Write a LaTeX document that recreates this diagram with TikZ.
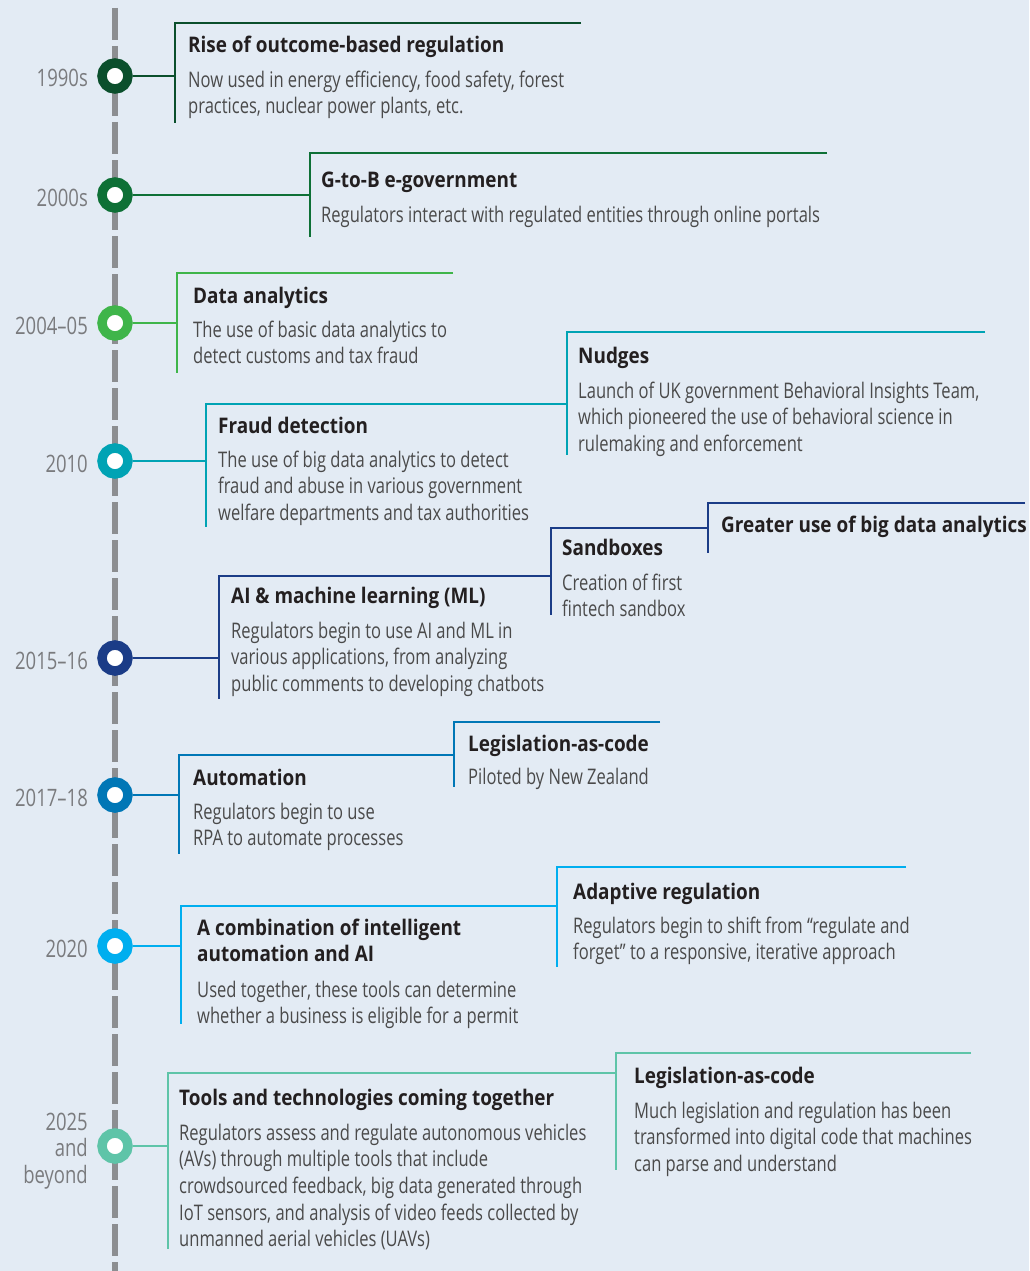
\documentclass[tikz,border=0pt]{standalone}
\usepackage{fontspec}
\setmainfont[FakeStretch=0.77, BoldFeatures={FakeStretch=0.88}]{Open Sans}
\usepackage{tikz}

\definecolor{bgc}{HTML}{E3EBF4}
\definecolor{axisc}{HTML}{8C8E91}
\definecolor{txtc}{HTML}{231F20}
\definecolor{descc}{HTML}{4A4A4A}
\definecolor{yearc}{HTML}{7A7B7E}
\definecolor{cA}{HTML}{0B4F2C}
\definecolor{cB}{HTML}{0E7036}
\definecolor{cC}{HTML}{3FB54A}
\definecolor{cD}{HTML}{00A3B4}
\definecolor{cE}{HTML}{1B3C87}
\definecolor{cF}{HTML}{0077B6}
\definecolor{cG}{HTML}{00AEEF}
\definecolor{cH}{HTML}{5EC4A8}

\tikzset{
  dot/.style={circle, draw=#1, line width=9.5pt, fill=white, minimum size=26pt, inner sep=0pt},
  yr/.style={anchor=base east, inner sep=0pt, text=yearc, font=\fontsize{24}{26.6}\selectfont, align=right},
  ttl/.style={anchor=base west, inner sep=0pt, text=txtc, font=\fontsize{21.5}{26.7}\selectfont\bfseries, align=left},
  desc/.style={anchor=base west, inner sep=0pt, text=descc, font=\fontsize{21.5}{26.7}\selectfont, align=left},
  brk/.style={draw=#1, line width=2.8pt},
}

\begin{document}
\begin{tikzpicture}[x=1pt, y=-1pt]
\useasboundingbox (0,0) rectangle (1029,1271);
\fill[bgc] (0,0) rectangle (1029,1271);

% time axis
\draw[axisc, line width=6pt, dash pattern=on 32pt off 6pt] (115,8) -- (115,1271);

% 1990s
\node[dot=cA] (c1) at (115,76) {};
\node[yr] (y1) at (88,87) {1990s};
\coordinate (k1) at (175,76);
\draw[brk=cA] (c1) -- (k1);
\draw[brk=cA] (581,23) -| (175,123);
\node[ttl] (t1) at (188,53) {Rise of outcome-based regulation};
\node[desc] (d1) at (188,113.7) {Now used in energy efficiency, food safety, forest\\practices, nuclear power plants, etc.};

% 2000s
\node[dot=cB] (c2) at (115,195) {};
\node[yr] (y2) at (88,206) {2000s};
\coordinate (k2) at (310,195);
\draw[brk=cB] (c2) -- (k2);
\draw[brk=cB] (827,153) -| (310,237);
\node[ttl] (t2) at (321,187) {G-to-B e-government};
\node[desc] (d2) at (321,222) {Regulators interact with regulated entities through online portals};

% 2004-05
\node[dot=cC] (c3) at (115,323) {};
\node[yr] (y3) at (88,334) {2004--05};
\coordinate (k3) at (177,323);
\draw[brk=cC] (c3) -- (k3);
\draw[brk=cC] (453,273) -| (177,373);
\node[ttl] (t3) at (193,303) {Data analytics};
\node[desc] (d3) at (193,363.7) {The use of basic data analytics to\\detect customs and tax fraud};

% 2010
\node[dot=cD] (c4) at (115,461) {};
\node[yr] (y4) at (88,472) {2010};
\coordinate (k4) at (206,461);
\draw[brk=cD] (c4) -- (k4);
\draw[brk=cD] (567,404) -| (206,527);
\draw[brk=cD] (985,332) -| (567,455);
\node[ttl] (t4) at (218,433) {Fraud detection};
\node[desc] (d4) at (218,520.4) {The use of big data analytics to detect\\fraud and abuse in various government\\welfare departments and tax authorities};
\node[ttl] (t5) at (578,363) {Nudges};
\node[desc] (d5) at (578,451.4) {Launch of UK government Behavioral Insights Team,\\which pioneered the use of behavioral science in\\rulemaking and enforcement};

% 2015-16
\node[dot=cE] (c5) at (115,658) {};
\node[yr] (y5) at (88,669) {2015--16};
\coordinate (k5) at (219,658);
\draw[brk=cE] (c5) -- (k5);
\draw[brk=cE] (551,576) -| (219,699);
\draw[brk=cE] (708,528) -| (551,615);
\draw[brk=cE] (1025,503) -| (708,553);
\node[ttl] (t6) at (231,603) {AI \& machine learning (ML)};
\node[desc] (d6) at (231,691.4) {Regulators begin to use AI and ML in\\various applications, from analyzing\\public comments to developing chatbots};
\node[ttl] (t7) at (562,555) {Sandboxes};
\node[desc] (d7) at (562,616.7) {Creation of first\\fintech sandbox};
\node[ttl] (t8) at (721,532) {Greater use of big data analytics};

% 2017-18
\node[dot=cF] (c6) at (115,795) {};
\node[yr] (y6) at (88,806) {2017--18};
\coordinate (k6) at (179,795);
\draw[brk=cF] (c6) -- (k6);
\draw[brk=cF] (454,755) -| (179,854);
\draw[brk=cF] (660,722) -| (454,787);
\node[ttl] (t9) at (193,785) {Automation};
\node[desc] (d9) at (193,845.7) {Regulators begin to use\\RPA to automate processes};
\node[ttl] (t10) at (468,751) {Legislation-as-code};
\node[desc] (d10) at (468,784) {Piloted by New Zealand};

% 2020
\node[dot=cG] (c7) at (115,946) {};
\node[yr] (y7) at (88,957) {2020};
\coordinate (k7) at (181,946);
\draw[brk=cG] (c7) -- (k7);
\draw[brk=cG] (557,906) -| (181,1024);
\draw[brk=cG] (906,867) -| (557,967);
\node[ttl] (t11) at (197,961.7) {A combination of intelligent\\automation and AI};
\node[desc] (d11) at (197,1023.7) {Used together, these tools can determine\\whether a business is eligible for a permit};
\node[ttl] (t12) at (573,899) {Adaptive regulation};
\node[desc] (d12) at (573,959.7) {Regulators begin to shift from “regulate and\\forget” to a responsive, iterative approach};

% 2025 and beyond
\node[dot=cH] (c8) at (115,1146) {};
\node[yr] (y8) at (88,1183.2) {2025\\and\\beyond};
\coordinate (k8) at (168,1146);
\draw[brk=cH] (c8) -- (k8);
\draw[brk=cH] (616,1073) -| (168,1249);
\draw[brk=cH] (971,1053) -| (616,1170);
\node[ttl] (t13) at (179,1105) {Tools and technologies coming together};
\node[desc] (d13) at (179,1246.8) {Regulators assess and regulate autonomous vehicles\\(AVs) through multiple tools that include\\crowdsourced feedback, big data generated through\\IoT sensors, and analysis of video feeds collected by\\unmanned aerial vehicles (UAVs)};
\node[ttl] (t14) at (634,1083) {Legislation-as-code};
\node[desc] (d14) at (634,1171.4) {Much legislation and regulation has been\\transformed into digital code that machines\\can parse and understand};
\end{tikzpicture}
\end{document}
